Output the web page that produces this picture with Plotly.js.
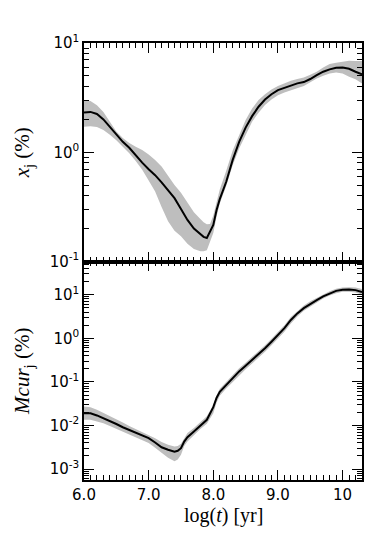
<!DOCTYPE html>
<html>
<head>
<meta charset="utf-8">
<script src="https://cdn.plot.ly/plotly-3.0.1.min.js"></script>
<style>
  html, body { margin: 0; padding: 0; background: #fff; }
  #grafico { width: 382px; height: 534px; }
</style>
</head>
<body>
<div id="grafico"></div>
<script>
// top panel: x_j (%)
let tiempoX = [6.0, 6.1, 6.2, 6.3, 6.4, 6.5, 6.6, 6.7, 6.8, 6.9, 7.0, 7.1, 7.2, 7.3, 7.4, 7.5, 7.6, 7.7, 7.8,
    7.85, 7.9, 7.95, 8.0, 8.05, 8.1, 8.2, 8.3, 8.4, 8.5, 8.6, 8.7, 8.8, 8.9, 9.0, 9.1, 9.2, 9.3, 9.4, 9.5,
    9.6, 9.7, 9.8, 9.9, 10.0, 10.1, 10.2, 10.3];
let xjMedia = [2.31, 2.34, 2.24, 2.0, 1.71, 1.46, 1.245, 1.10, 0.933, 0.804, 0.70, 0.617, 0.531, 0.452, 0.38, 0.302, 0.24, 0.20, 0.176,
    0.168, 0.164, 0.186, 0.216, 0.295, 0.372, 0.537, 0.851, 1.245, 1.68, 2.14, 2.61, 3.04, 3.40, 3.71, 3.89, 4.06, 4.27, 4.39, 4.68,
    5.08, 5.46, 5.74, 5.94, 5.98, 5.81, 5.46, 5.16];
let xjAlto = [3.0, 2.95, 2.69, 2.34, 1.905, 1.55, 1.35, 1.216, 1.122, 1.047, 0.955, 0.851, 0.741, 0.603, 0.501, 0.427, 0.347, 0.282, 0.245,
    0.229, 0.219, 0.221, 0.263, 0.347, 0.457, 0.676, 1.04, 1.43, 1.97, 2.51, 3.00, 3.40, 3.76, 4.04, 4.27, 4.51, 4.68, 4.84, 5.13,
    5.46, 5.96, 6.41, 6.59, 6.73, 6.89, 6.84, 6.84];
let xjBajo = [1.71, 1.73, 1.70, 1.60, 1.445, 1.29, 1.122, 0.977, 0.832, 0.692, 0.55, 0.437, 0.316, 0.234, 0.191, 0.17, 0.145, 0.130, 0.124,
    0.124, 0.127, 0.151, 0.182, 0.257, 0.339, 0.49, 0.759, 1.08, 1.43, 1.90, 2.30, 2.70, 3.04, 3.33, 3.53, 3.71, 3.89, 4.04, 4.37,
    4.74, 5.01, 5.27, 5.38, 5.27, 4.91, 4.65, 4.27];

// bottom panel: Mcur_j (%)
let tiempoM = [6.0, 6.1, 6.2, 6.3, 6.4, 6.5, 6.6, 6.7, 6.8, 6.9, 7.0, 7.1, 7.2, 7.3, 7.4, 7.45, 7.5, 7.55, 7.6, 7.7, 7.8, 7.9,
    8.0, 8.05, 8.1, 8.2, 8.3, 8.4, 8.5, 8.6, 8.7, 8.8, 8.9, 9.0, 9.1, 9.2, 9.3, 9.4, 9.5, 9.6, 9.7, 9.8, 9.9,
    10.0, 10.1, 10.2, 10.3];
let mcurMedia = [0.0192, 0.0191, 0.0170, 0.0148, 0.0129, 0.0108, 0.00912, 0.00785, 0.00676, 0.00589, 0.00513, 0.00407, 0.00316, 0.00278, 0.00251, 0.00263, 0.00302, 0.00427, 0.00537, 0.00724, 0.0100, 0.0135,
    0.0263, 0.0427, 0.0589, 0.0851, 0.120, 0.174, 0.234, 0.316, 0.437, 0.589, 0.832, 1.19, 1.70, 2.63, 3.72, 4.90, 6.17, 7.52, 9.12, 10.7, 12.2,
    13.0, 13.2, 12.7, 11.5];
let mcurAlto = [0.0272, 0.0263, 0.0229, 0.0195, 0.0166, 0.0140, 0.01175, 0.00977, 0.00832, 0.00708, 0.00617, 0.00513, 0.00417, 0.00363, 0.00331, 0.00339, 0.0038, 0.00525, 0.00676, 0.00871, 0.01175, 0.0162,
    0.0295, 0.049, 0.0692, 0.1, 0.141, 0.204, 0.275, 0.372, 0.513, 0.692, 0.977, 1.41, 2.0, 3.09, 4.27, 5.62, 7.08, 8.51, 10.2, 12.0, 13.6,
    14.6, 14.8, 14.5, 13.5];
let mcurBajo = [0.0135, 0.0135, 0.0123, 0.0112, 0.00977, 0.00841, 0.00708, 0.00603, 0.00525, 0.00457, 0.00398, 0.00309, 0.00234, 0.00182, 0.00151, 0.00166, 0.00214, 0.00339, 0.00427, 0.00603, 0.00832, 0.011,
    0.0191, 0.0331, 0.0479, 0.0708, 0.1, 0.145, 0.195, 0.263, 0.355, 0.49, 0.692, 0.977, 1.41, 2.19, 3.16, 4.27, 5.37, 6.61, 8.13, 9.55, 10.8,
    11.6, 11.7, 11.2, 10.0];

// ticks
let ticksX = [6, 7, 8, 9, 10];
let etiquetasX = ['6.0', '7.0', '8.0', '9.0', '10'];
let ticksArriba = [0.1, 1, 10];
let etiquetasArriba = ['10<sup>-1</sup>', '10<sup>0</sup>', '10<sup>1</sup>'];
let ticksAbajo = [0.001, 0.01, 0.1, 1, 10];
let etiquetasAbajo = ['10<sup>-3</sup>', '10<sup>-2</sup>', '10<sup>-1</sup>', '10<sup>0</sup>', '10<sup>1</sup>'];

let gris = '#bebebe';
let serif = 'Liberation Serif, DejaVu Serif, serif';
let sans = 'DejaVu Sans, sans-serif';

let graf1 = [
    {x: tiempoX, y: xjBajo, type: 'scatter', mode: 'lines', line: {width: 0, color: gris}, xaxis: 'x2', yaxis: 'y2', hoverinfo: 'skip'},
    {x: tiempoX, y: xjAlto, type: 'scatter', mode: 'lines', line: {width: 0, color: gris}, fill: 'tonexty', fillcolor: gris, xaxis: 'x2', yaxis: 'y2', hoverinfo: 'skip'},
    {x: tiempoX, y: xjMedia, type: 'scatter', mode: 'lines', line: {width: 2, color: 'black'}, xaxis: 'x2', yaxis: 'y2'}
];
let graf2 = [
    {x: tiempoM, y: mcurBajo, type: 'scatter', mode: 'lines', line: {width: 0, color: gris}, hoverinfo: 'skip'},
    {x: tiempoM, y: mcurAlto, type: 'scatter', mode: 'lines', line: {width: 0, color: gris}, fill: 'tonexty', fillcolor: gris, hoverinfo: 'skip'},
    {x: tiempoM, y: mcurMedia, type: 'scatter', mode: 'lines', line: {width: 2, color: 'black'}}
];

let ejeX = {
    range: [6, 10.3],
    tickmode: 'array', tickvals: ticksX, ticktext: etiquetasX,
    ticks: 'inside', ticklen: 10, tickwidth: 1, tickcolor: 'black',
    minor: {dtick: 0.1, tick0: 6, ticks: 'inside', ticklen: 5, tickwidth: 1, tickcolor: 'black', showgrid: false},
    showline: true, linecolor: 'black', linewidth: 1.5, mirror: 'ticks',
    showgrid: false, zeroline: false,
    tickfont: {family: sans, size: 15, color: 'black'}
};
let ejeY = {
    type: 'log',
    tickmode: 'array',
    ticks: 'inside', ticklen: 10, tickwidth: 1, tickcolor: 'black',
    minor: {dtick: 'D1', ticks: 'inside', ticklen: 5, tickwidth: 1, tickcolor: 'black', showgrid: false},
    showline: true, linecolor: 'black', linewidth: 1.5, mirror: 'ticks',
    showgrid: false, zeroline: false,
    tickfont: {family: sans, size: 15, color: 'black'}
};

let layout1 = {
    width: 382, height: 534,
    margin: {l: 84, r: 20, t: 43, b: 54},
    paper_bgcolor: 'white', plot_bgcolor: 'white',
    showlegend: false,
    xaxis: Object.assign({}, ejeX, {anchor: 'y'}),
    xaxis2: Object.assign({}, ejeX, {anchor: 'y2', matches: 'x', showticklabels: false}),
    yaxis: Object.assign({}, ejeY, {
        domain: [0, 0.5], anchor: 'x',
        range: [-3.25, 1.76],
        tickvals: ticksAbajo, ticktext: etiquetasAbajo,
        title: {text: '<i>Mcur</i><sub>j</sub> (%)', font: {family: serif, size: 21, color: 'black'}, standoff: 14}
    }),
    yaxis2: Object.assign({}, ejeY, {
        domain: [0.5, 1], anchor: 'x2',
        range: [-1, 1],
        tickvals: ticksArriba, ticktext: etiquetasArriba,
        title: {text: '<i>x</i><sub>j</sub> (%)', font: {family: serif, size: 21, color: 'black'}, standoff: 14}
    }),
    // x title placed as annotation to sit just under the tick labels
    annotations: [{
        text: 'log(<i>t</i>) [yr]', xref: 'paper', yref: 'paper',
        x: 0.5, y: -0.081, xanchor: 'center', yanchor: 'middle',
        showarrow: false, font: {family: serif, size: 20, color: 'black'}
    }]
};

let contenedor = document.getElementById('grafico');
Plotly.newPlot(contenedor, graf1.concat(graf2), layout1, {displayModeBar: false});
</script>
</body>
</html>
